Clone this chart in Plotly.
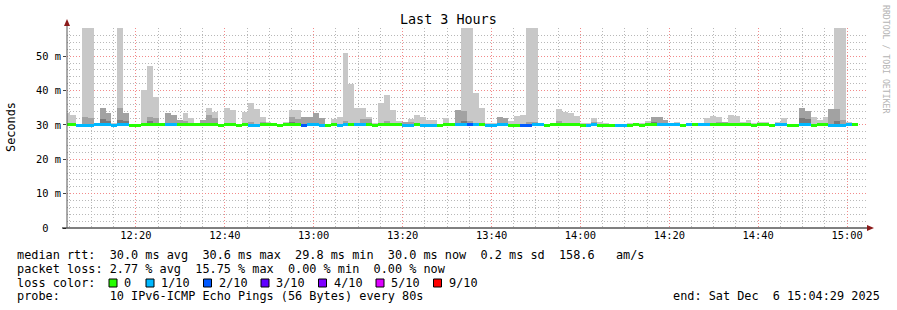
import plotly.graph_objects as go
from datetime import datetime, timedelta

# ---------------- data ----------------
end_time = datetime(2025, 12, 6, 15, 4, 29)
span_hours = 3
step_seconds = 80

# top of outer (light) smoke band, ms (0 = no visible smoke)
smoke_max = [
    33.5, 33.0, 0, 62, 62, 30.7, 35.0, 33.6, 30.5, 62,
    33.6, 0, 0, 40.1, 47.2, 38.1, 30.6, 33.4, 33.0, 31.5,
    33.5, 32.0, 30.6, 31.5, 34.9, 33.8, 0, 34.9, 34.2, 0,
    33.8, 36.3, 34.5, 32.3, 30.8, 30.6, 0, 30.8, 34.3, 34.3,
    32.2, 32.3, 33.4, 32.0, 0, 31.6, 32.3, 50.9, 41.8, 35.0,
    35.0, 32.4, 30.6, 36.5, 38.8, 34.3, 31.2, 30.8, 31.6, 33.0,
    32.3, 31.5, 31.5, 0, 31.9, 0, 34.2, 62, 62, 39.2,
    34.8, 30.6, 30.7, 32.3, 32.0, 31.2, 32.5, 33.0, 62, 62,
    30.6, 0, 30.6, 34.5, 33.8, 33.4, 32.6, 30.5, 30.6, 32.0,
    30.8, 30.5, 0, 0, 0, 30.5, 30.6, 30.6, 31.2, 32.2,
    32.4, 31.3, 30.6, 30.8, 0, 30.5, 0, 30.7, 31.9, 32.5,
    32.2, 30.8, 33.0, 32.5, 30.8, 31.3, 30.5, 30.8, 30.8, 0,
    30.9, 31.9, 0, 0, 35.0, 34.0, 32.3, 31.3, 32.3, 34.7,
    62, 62, 30.8, 0,
]
# top of middle (grey) smoke band, ms
smoke_mid = [
    0, 0, 0, 32.4, 32.0, 0, 35.0, 33.6, 0, 34.8,
    33.6, 0, 0, 0, 32.4, 32.1, 0, 33.4, 33.0, 31.4,
    31.0, 0, 0, 31.5, 33.0, 32.1, 0, 0, 0, 0,
    0, 30.8, 0, 30.8, 0, 0, 0, 0, 32.2, 31.6,
    32.2, 32.3, 33.4, 32.0, 0, 0, 0, 31.1, 0, 0,
    31.8, 31.6, 0, 0, 31.1, 0, 0, 30.8, 30.9, 0,
    0, 0, 0, 0, 0, 0, 34.2, 34.0, 31.0, 0,
    0, 0, 0, 32.3, 32.0, 0, 0, 0, 30.9, 30.9,
    0, 0, 0, 31.1, 0, 0, 0, 0, 0, 30.8,
    0, 0, 0, 0, 0, 0, 0, 0, 0, 32.4,
    32.4, 31.3, 0, 0, 0, 0, 0, 0, 0, 0,
    30.8, 30.8, 0, 30.7, 0, 0, 0, 0, 0, 0,
    0, 0, 0, 0, 35.0, 34.0, 0, 0, 0, 34.7,
    34.7, 31.3, 0, 0,
]
# top of inner (dark) smoke band, ms
smoke_dark = [
    0, 0, 0, 0, 0, 0, 31.6, 31.0, 0, 31.5,
    31.0, 0, 0, 0, 31.0, 0, 0, 0, 0, 0,
    0, 0, 0, 0, 0, 0, 0, 0, 0, 0,
    0, 0, 0, 0, 0, 0, 0, 0, 30.9, 0,
    0, 0, 0, 0, 0, 0, 0, 0, 0, 0,
    0, 0, 0, 0, 0, 0, 0, 0, 0, 0,
    0, 0, 0, 0, 0, 0, 0, 31.0, 0, 0,
    0, 0, 0, 0, 0, 0, 0, 0, 0, 0,
    0, 0, 0, 0, 0, 0, 0, 0, 0, 0,
    0, 0, 0, 0, 0, 0, 0, 0, 0, 30.9,
    0, 0, 0, 0, 0, 0, 0, 0, 0, 0,
    0, 0, 0, 0, 0, 0, 0, 0, 0, 0,
    0, 0, 0, 0, 32.0, 31.6, 0, 0, 0, 0,
    31.0, 0, 0, 0,
]
# packet-loss class per step (index into loss_colors)
loss_idx = [
    0, 0, 1, 1, 1, 1, 1, 1, 1, 1,
    1, 0, 0, 0, 0, 0, 0, 1, 1, 0,
    0, 0, 0, 0, 0, 0, 0, 0, 0, 0,
    0, 1, 1, 0, 0, 0, 0, 0, 0, 0,
    2, 1, 1, 1, 0, 0, 1, 1, 0, 1,
    1, 0, 0, 0, 0, 0, 0, 1, 1, 0,
    1, 1, 1, 0, 0, 0, 1, 1, 2, 1,
    0, 1, 1, 1, 1, 0, 0, 2, 2, 1,
    1, 0, 0, 0, 0, 0, 0, 0, 1, 1,
    0, 0, 0, 1, 1, 0, 0, 0, 0, 0,
    1, 1, 1, 1, 0, 1, 0, 1, 1, 0,
    0, 0, 0, 0, 0, 0, 0, 0, 0, 0,
    1, 1, 0, 0, 1, 1, 0, 0, 0, 1,
    1, 1, 1, 0,
]
# median rtt per step, ms
median_ms = [
    30.1, 30.1, 29.9, 29.9, 29.9, 30.0, 30.0, 30.0, 29.9, 30.0,
    30.0, 29.9, 29.8, 30.0, 30.2, 30.1, 30.0, 30.0, 30.0, 30.0,
    30.2, 30.0, 30.0, 30.0, 30.0, 30.0, 29.8, 30.0, 30.0, 29.8,
    30.0, 29.9, 29.9, 30.0, 30.0, 30.0, 29.8, 30.0, 30.0, 30.0,
    29.9, 30.0, 30.0, 29.9, 29.8, 30.1, 29.9, 30.0, 30.1, 30.0,
    30.0, 30.0, 29.8, 30.0, 30.0, 30.0, 30.0, 29.9, 29.9, 30.1,
    29.9, 29.9, 29.9, 29.8, 30.0, 30.0, 30.0, 30.0, 30.0, 30.0,
    30.2, 29.9, 29.8, 30.0, 30.0, 29.8, 29.8, 29.9, 29.9, 30.0,
    30.0, 29.8, 30.0, 30.2, 30.1, 30.1, 30.0, 29.8, 29.9, 30.0,
    29.8, 29.9, 29.8, 29.9, 29.9, 29.8, 30.0, 29.8, 30.0, 30.2,
    30.0, 30.0, 30.0, 30.0, 29.8, 30.0, 30.0, 30.0, 30.0, 30.2,
    30.0, 30.0, 30.0, 30.0, 30.0, 30.0, 29.8, 30.0, 30.0, 29.8,
    30.0, 30.0, 29.8, 29.8, 30.0, 30.0, 29.8, 30.0, 30.0, 29.9,
    29.9, 29.9, 30.0, 30.0,
]

loss_labels = ["0", "1/10", "2/10", "3/10", "4/10", "5/10", "9/10"]
loss_colors = ["#26ff00", "#00b8ff", "#0059ff", "#5e00ff", "#7e00ff", "#dd00ff", "#ff0000"]

stats_line1 = "median rtt:  30.0 ms avg  30.6 ms max  29.8 ms min  30.0 ms now  0.2 ms sd  158.6   am/s"
stats_line2 = "packet loss: 2.77 % avg  15.75 % max  0.00 % min  0.00 % now"
probe_line = "probe:       10 IPv6-ICMP Echo Pings (56 Bytes) every 80s"
end_line = "end: Sat Dec  6 15:04:29 2025"

# ---------------- derived ----------------
start_time = end_time - timedelta(hours=span_hours)
times = [start_time + timedelta(seconds=step_seconds * i) for i in range(len(median_ms))]
bar_w = step_seconds * 1000
smoke_floor = [m - 0.3 for m in median_ms]

def band(tops):
    return [(t - b) if t > b else None for t, b in zip(tops, smoke_floor)]

MONO = "DejaVu Sans Mono"
fig = go.Figure()
for tops, col in ((smoke_max, "#c8c8c8"), (smoke_mid, "#a2a2a2"), (smoke_dark, "#7a7a7a")):
    fig.add_trace(go.Bar(x=times, y=band(tops), base=smoke_floor, width=bar_w,
                         marker=dict(color=col, line=dict(width=0)), hoverinfo="skip"))
fig.add_trace(go.Bar(x=times, y=[0.9] * len(median_ms), base=[m - 0.45 for m in median_ms],
                     width=bar_w,
                     marker=dict(color=[loss_colors[i] for i in loss_idx], line=dict(width=0)),
                     hoverinfo="skip"))

L, R, T, B = 67, 30, 28, 82
W, H = 897, 310
PW, PH = W - L - R, H - T - B
def px(xp):
    return (xp - L) / PW
def py(yp):
    return (H - B - yp) / PH

grid_dash = "1px,2px"
major_grid = "#f28a8a"
minor_grid = "#b8b8b8"
fig.update_layout(
    width=W, height=H, margin=dict(l=L, r=R, t=T, b=B),
    paper_bgcolor="white", plot_bgcolor="white",
    barmode="overlay", bargap=0, showlegend=False,
    font=dict(family=MONO, color="black", size=10.4),
    xaxis=dict(type="date", range=[start_time, end_time],
               tickmode="linear", tick0=datetime(2025, 12, 6, 12, 0), dtick=20 * 60 * 1000,
               tickformat="%H:%M",
               showgrid=True, gridcolor=major_grid, griddash=grid_dash, gridwidth=1,
               ticks="", zeroline=False, showline=False,
               tickfont=dict(family=MONO, size=10.4, color="black"),
               minor=dict(tickmode="linear", dtick=5 * 60 * 1000, tick0=datetime(2025, 12, 6, 12, 0),
                          showgrid=True, gridcolor=minor_grid, griddash=grid_dash, gridwidth=1)),
    yaxis=dict(range=[0, 58.2], tickmode="linear", tick0=0, dtick=10,
               ticksuffix=" m", labelalias={"0 m": "0\u00a0\u00a0"},
               showgrid=True, gridcolor=major_grid, griddash=grid_dash, gridwidth=1,
               ticks="outside", ticklen=3, tickcolor="#444",
               zeroline=False, showline=False,
               tickfont=dict(family=MONO, size=10.4, color="black"),
               minor=dict(tickmode="linear", dtick=2, tick0=0, showgrid=True, gridcolor=minor_grid,
                          griddash=grid_dash, gridwidth=1)),
)

shapes = []
# axes
shapes.append(dict(type="line", xref="paper", yref="paper", x0=px(62), x1=px(869), y0=0, y1=0,
                   line=dict(color="black", width=1)))
shapes.append(dict(type="line", xref="paper", yref="paper", x0=0, x1=0, y0=0, y1=py(24),
                   line=dict(color="#555555", width=1)))
# arrows
shapes.append(dict(type="path", xref="paper", yref="paper",
                   path=f"M {px(867)} {py(225)} L {px(874)} {py(228)} L {px(867)} {py(231)} Z",
                   fillcolor="#8b1a1a", line=dict(width=0)))
shapes.append(dict(type="path", xref="paper", yref="paper",
                   path=f"M {px(64)} {py(26)} L {px(67)} {py(19)} L {px(70)} {py(26)} Z",
                   fillcolor="#8b1a1a", line=dict(width=0)))
# loss colour squares
square_x = [109, 146, 203.5, 261, 318.5, 376, 433.5]
for sx, col in zip(square_x, loss_colors):
    shapes.append(dict(type="rect", xref="paper", yref="paper",
                       x0=px(sx), x1=px(sx + 8), y0=py(287), y1=py(279),
                       fillcolor=col, line=dict(color="black", width=1)))
fig.update_layout(shapes=shapes)

def nb(s):
    return s.replace(" ", "\u00a0")

ann = []
LEG = 11.85
ann.append(dict(text="Last 3 Hours", xref="paper", yref="paper", x=px(448.5), y=py(20),
                xanchor="center", yanchor="middle", showarrow=False,
                font=dict(family=MONO, size=13.4, color="black")))
ann.append(dict(text="Seconds", xref="paper", yref="paper", x=px(11), y=py(127),
                xanchor="center", yanchor="middle", showarrow=False, textangle=-90,
                font=dict(family=MONO, size=LEG, color="black")))
ann.append(dict(text=nb("RRDTOOL / TOBI OETIKER"), xref="paper", yref="paper", x=px(886), y=py(59),
                xanchor="center", yanchor="middle", showarrow=False, textangle=90,
                font=dict(family=MONO, size=8.2, color="#b4b4b4")))
rows_y = [255, 268.5, 282.5, 296]
for txt, yy in ((stats_line1, rows_y[0]), (stats_line2, rows_y[1]), ("loss color:", rows_y[2]),
                (probe_line, rows_y[3])):
    ann.append(dict(text=nb(txt), xref="paper", yref="paper", x=px(15), y=py(yy),
                    xanchor="left", yanchor="middle", showarrow=False,
                    font=dict(family=MONO, size=LEG, color="black")))
for sx, lab in zip(square_x, loss_labels):
    ann.append(dict(text=lab, xref="paper", yref="paper", x=px(sx + 13), y=py(rows_y[2]),
                    xanchor="left", yanchor="middle", showarrow=False,
                    font=dict(family=MONO, size=LEG, color="black")))
ann.append(dict(text=nb(end_line), xref="paper", yref="paper", x=px(882), y=py(rows_y[3]),
                xanchor="right", yanchor="middle", showarrow=False,
                font=dict(family=MONO, size=LEG, color="black")))
fig.update_layout(annotations=ann)

fig.write_html("out.html")
